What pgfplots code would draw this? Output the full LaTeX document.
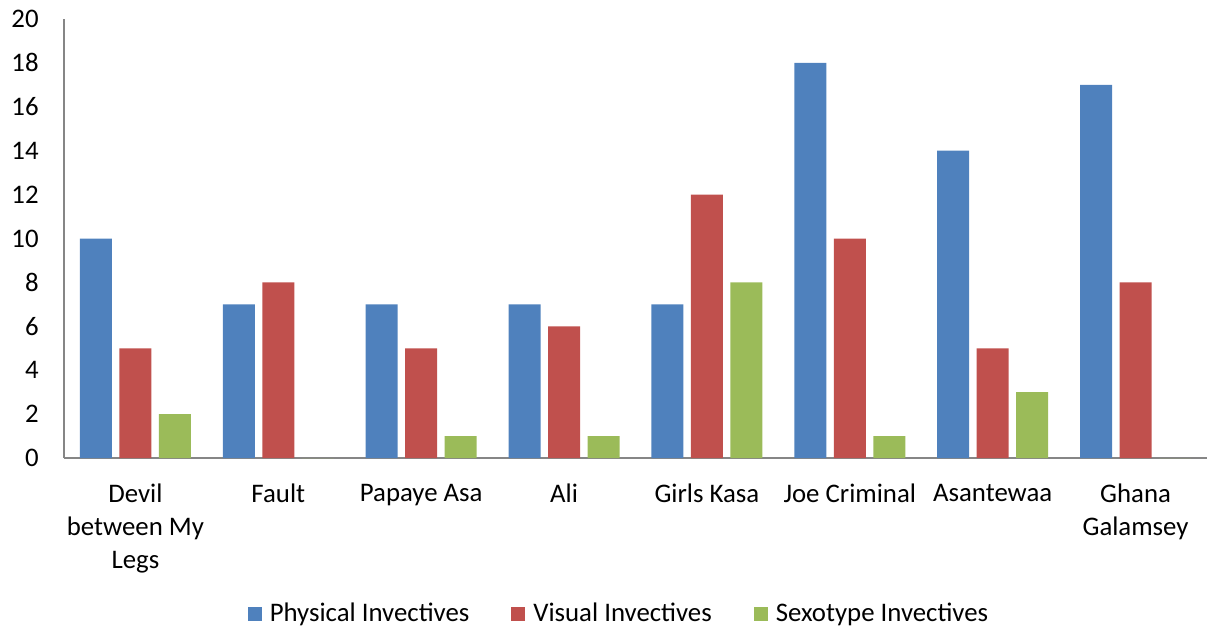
\documentclass[border=0pt]{standalone}
\usepackage{pgfplots}
\pgfplotsset{compat=1.18}
\usepackage{fontspec}
\setmainfont{Carlito}

\definecolor{physblue}{HTML}{4F81BD}
\definecolor{visred}{HTML}{C0504D}
\definecolor{sexgreen}{HTML}{9BBB59}
\definecolor{axisgray}{HTML}{868686}

% Invective counts per film
\pgfplotstableread{
x phys vis sex
0 10 5  2
1 7  8  0
2 7  5  1
3 7  6  1
4 7  12 8
5 18 10 1
6 14 5  3
7 17 8  0
}\invectives

\begin{document}
\fontsize{13.4}{16.5}\selectfont
\begin{tikzpicture}
\useasboundingbox (-32pt,-87.5pt) rectangle (576pt,229pt);
\begin{axis}[
  scale only axis,
  width=571.5pt, height=219.5pt,
  ybar=3.75pt, bar width=16pt,
  xmin=-0.5, xmax=7.5,
  ymin=0, ymax=20,
  ytick={0,2,...,20},
  xtick=data,
  xticklabels={{Devil\\between My\\Legs},Fault,Papaye Asa,Ali,Girls Kasa,Joe Criminal,Asantewaa,{Ghana\\Galamsey}},
  xticklabel style={align=center, anchor=north, yshift=-8.5pt, font=\fontsize{13.4}{16.5}\selectfont},
  yticklabel style={font=\fontsize{13.4}{15}\selectfont, xshift=-8pt},
  /pgf/number format/assume math mode=true,
  major tick length=0pt,
  axis x line*=bottom, axis y line*=left,
  axis line style={axisgray, line width=1pt, -},
  separate axis lines,
  tick style={draw=none},
  legend columns=3,
  legend style={draw=none, at={(0.4864,-0.355)}, anchor=center,
    font=\fontsize{13.4}{15}\selectfont,
    /tikz/every odd column/.append style={column sep=2pt},
    /tikz/every even column/.append style={column sep=19pt}},
  legend image code/.code={\fill[#1] (0pt,-3.5pt) rectangle (7pt,3.5pt);},
  every axis plot/.append style={draw=none},
]
\addplot[fill=physblue] table[x=x,y=phys] {\invectives};
\addplot[fill=visred] table[x=x,y=vis] {\invectives};
\addplot[fill=sexgreen] table[x=x,y=sex] {\invectives};
\legend{Physical Invectives, Visual Invectives, Sexotype Invectives}
\end{axis}
\end{tikzpicture}
\end{document}
